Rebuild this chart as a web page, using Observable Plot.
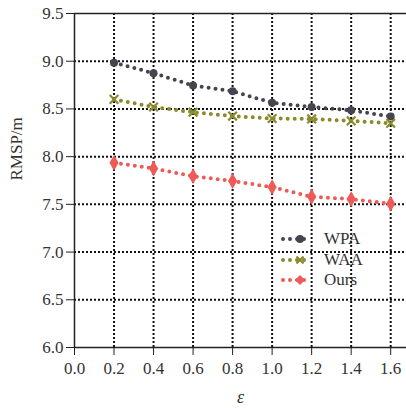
<!DOCTYPE html>
<html><head><meta charset="utf-8">
<script src="https://cdn.jsdelivr.net/npm/d3@7"></script>
<script src="https://cdn.jsdelivr.net/npm/@observablehq/plot@0.6"></script>
<style>
body{margin:0;background:#fff;}
#wrap{position:relative;width:406px;height:408px;}
#legend{position:absolute;left:280px;top:229px;font-family:"Liberation Serif",serif;font-size:17px;color:#333;}
#legend div{height:20.5px;display:flex;align-items:center;}
#legend span{margin-left:14px;}
</style>
</head><body><div id="wrap"><div id="legend"></div></div>
<script>
const eps = [0.2, 0.4, 0.6, 0.8, 1.0, 1.2, 1.4, 1.6];
const wpa = [8.985, 8.875, 8.745, 8.685, 8.565, 8.52, 8.485, 8.42];
const waa = [8.60, 8.52, 8.465, 8.425, 8.40, 8.395, 8.375, 8.35];
const ours = [7.935, 7.875, 7.795, 7.745, 7.68, 7.58, 7.555, 7.507];
const seriesNames = ["WPA", "WAA", "Ours"];
const colors = ["#45454f", "#8a8a2c", "#ee5a57"];
const symbols = ["circle", "times", "diamond"];
const xTicks = [0, 0.2, 0.4, 0.6, 0.8, 1.0, 1.2, 1.4, 1.6];
const yTicks = [6.0, 6.5, 7.0, 7.5, 8.0, 8.5, 9.0, 9.5];

const values = [wpa, waa, ours];
const data = [];
values.forEach((arr, s) => arr.forEach((v, i) => data.push({s: seriesNames[s], x: eps[i], y: v})));

const marks = [
  Plot.gridX(xTicks.slice(1), {stroke: "#111", strokeOpacity: 1, strokeWidth: 2, strokeDasharray: "2,2"}),
  Plot.gridY(yTicks.slice(1, -1), {stroke: "#111", strokeOpacity: 1, strokeWidth: 2, strokeDasharray: "2,2"}),
  Plot.ruleX([0], {stroke: "#222", strokeWidth: 1.5}),
  Plot.ruleY([6.0, 9.5], {stroke: "#222", strokeWidth: 1.5}),
  Plot.axisX({ticks: xTicks, tickFormat: d3.format(".1f"), tickSize: 8, tickPadding: 6, fontSize: 17, stroke: "#222", color: "#333", label: null}),
  Plot.axisY({ticks: yTicks, tickFormat: d3.format(".1f"), tickSize: 8, tickPadding: 3, fontSize: 17, stroke: "#222", color: "#333", label: null}),
  Plot.text(["RMSP/m"], {frameAnchor: "left", dx: -58, rotate: -90, fontSize: 17, fill: "#333"}),
  Plot.text(["ε"], {frameAnchor: "bottom", dy: 55, fontSize: 18, fontStyle: "italic", fill: "#333"})
];
seriesNames.forEach((name, k) => {
  const d = data.filter(r => r.s === name);
  marks.push(Plot.line(d, {x: "x", y: "y", stroke: colors[k], strokeWidth: 4, strokeDasharray: "0,7", strokeLinecap: "round"}));
  if (symbols[k] === "times") {
    marks.push(Plot.dot(d, {x: "x", y: "y", symbol: "times", stroke: colors[k], strokeWidth: 2.2, r: 4}));
  } else {
    marks.push(Plot.dot(d, {x: "x", y: "y", symbol: symbols[k], fill: colors[k], r: symbols[k] === "diamond" ? 4.8 : 4}));
  }
});

const chart = Plot.plot({
  width: 406, height: 408,
  marginLeft: 74, marginRight: 0, marginTop: 13, marginBottom: 61,
  style: {fontFamily: "Liberation Serif, serif", fontSize: "17px", background: "#fff"},
  x: {domain: [0, 1.68]},
  y: {domain: [6.0, 9.5]},
  marks
});
document.getElementById("wrap").prepend(chart);

const leg = document.getElementById("legend");
seriesNames.forEach((name, k) => {
  const row = document.createElement("div");
  const sym = symbols[k] === "times"
    ? `<path d="M16.5,1.5 L23.5,8.5 M23.5,1.5 L16.5,8.5" stroke="${colors[k]}" stroke-width="2.2"/>`
    : symbols[k] === "diamond"
      ? `<path d="M20,0 L25,5 L20,10 L15,5Z" fill="${colors[k]}"/>`
      : `<circle cx="20" cy="5" r="4" fill="${colors[k]}"/>`;
  row.innerHTML = `<svg width="30" height="10" style="overflow:visible"><line x1="3" y1="5" x2="28" y2="5" stroke="${colors[k]}" stroke-width="4" stroke-dasharray="0,7" stroke-linecap="round"/>${sym}</svg><span>${name}</span>`;
  leg.appendChild(row);
});
</script></body></html>
